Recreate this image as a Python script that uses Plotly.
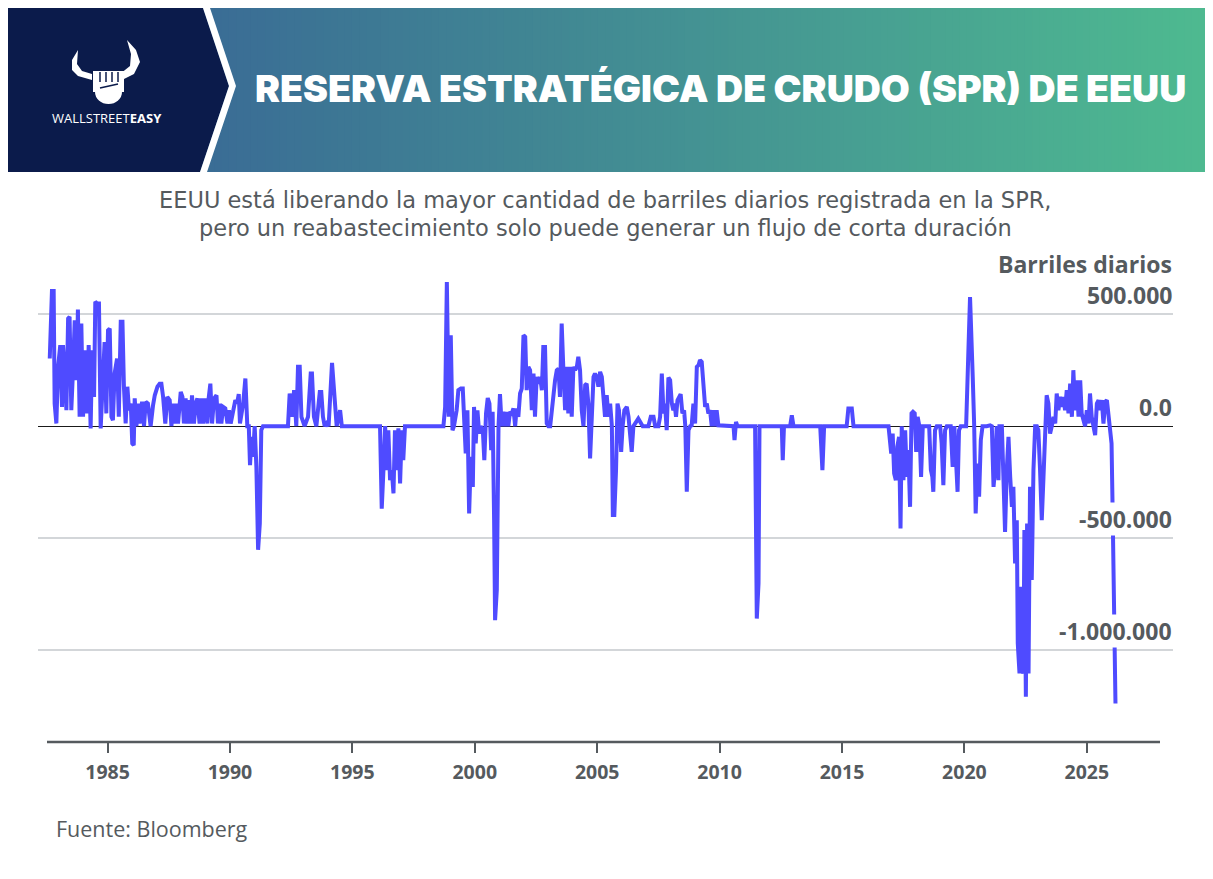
import plotly.graph_objects as go

# SPR net flow, barrels per day (decimal years)
yrs_1982_1994 = [
    1982.64, 1982.73, 1982.80, 1982.84, 1982.91, 1982.98, 1983.07, 1983.14, 1983.18, 1983.25,
    1983.32, 1983.39, 1983.45, 1983.52, 1983.59, 1983.66, 1983.73, 1983.79, 1983.86, 1983.93,
    1984.00, 1984.07, 1984.16, 1984.23, 1984.31, 1984.37, 1984.45, 1984.50, 1984.58, 1984.65,
    1984.72, 1984.82, 1984.88, 1984.95, 1985.02, 1985.09, 1985.16, 1985.22, 1985.29, 1985.39,
    1985.46, 1985.54, 1985.61, 1985.67, 1985.74, 1985.81, 1985.88, 1985.95, 1986.01, 1986.07,
    1986.11, 1986.18, 1986.25, 1986.31, 1986.41, 1986.49, 1986.56, 1986.65, 1986.76, 1986.86,
    1986.93, 1987.04, 1987.13, 1987.20, 1987.27, 1987.36, 1987.44, 1987.54, 1987.61, 1987.68,
    1987.74, 1987.81, 1987.88, 1987.99, 1988.06, 1988.12, 1988.19, 1988.26, 1988.33, 1988.40,
    1988.45, 1988.53, 1988.60, 1988.67, 1988.76, 1988.83, 1988.90, 1988.97, 1989.08, 1989.13,
    1989.20, 1989.27, 1989.35, 1989.45, 1989.51, 1989.58, 1989.65, 1989.72, 1989.81, 1989.90,
    1989.96, 1990.03, 1990.13, 1990.22, 1990.29, 1990.36, 1990.41, 1990.47, 1990.54, 1990.63,
    1990.71, 1990.77, 1990.82, 1990.88, 1990.94, 1991.01, 1991.08, 1991.15, 1991.22, 1991.28,
    1991.35, 1992.37, 1992.44, 1992.54, 1992.62, 1992.71, 1992.78, 1992.85, 1992.92, 1993.05,
    1993.19, 1993.30, 1993.35, 1993.43, 1993.53, 1993.67, 1993.73, 1993.80, 1993.87, 1993.95,
    1994.03, 1994.17, 1994.25,
]
flow_1982_1994 = [
    302000, 604000, 604000, 101000, 12000, 265000, 362000, 86000, 362000, 250000,
    71000, 481000, 488000, 71000, 250000, 473000, 205000, 521000, 42000, 458000,
    42000, 339000, 57000, 362000, -10000, 339000, 131000, 555000, 548000, 548000,
    -10000, 310000, 376000, 57000, 428000, 436000, 42000, 27000, 235000, 302000,
    42000, 466000, 466000, 176000, 12000, 176000, 71000, 101000, -77000, -85000,
    124000, 0, 101000, 12000, 109000, 0, 109000, 101000, 0, 94000,
    138000, 176000, 190000, 190000, 131000, 12000, 131000, 116000, 0, 101000,
    12000, 101000, 12000, 153000, 131000, 12000, 124000, 12000, 116000, 12000,
    138000, 12000, 101000, 124000, 12000, 124000, 12000, 124000, 12000, 124000,
    190000, 12000, 124000, 138000, 12000, 101000, 12000, 86000, 79000, 12000,
    71000, 12000, 64000, 116000, 101000, 143000, 12000, 57000, 101000, 213000,
    0, 0, -174000, -48000, -137000, 0, -182000, -552000, -434000, -18000,
    0, 0, 146000, 42000, 161000, 0, 265000, 265000, 42000, 0,
    42000, 235000, 235000, 42000, 0, 153000, 153000, 42000, 0, 12000,
    0, 283000, 153000,
]

yrs_1994_2006 = [
    1994.36, 1994.50, 1994.57, 1996.13, 1996.20, 1996.27, 1996.34, 1996.40, 1996.47, 1996.54,
    1996.61, 1996.68, 1996.74, 1996.81, 1996.88, 1996.95, 1997.02, 1997.08, 1997.15, 1998.72,
    1998.79, 1998.86, 1998.94, 1999.02, 1999.09, 1999.15, 1999.26, 1999.33, 1999.43, 1999.51,
    1999.56, 1999.63, 1999.70, 1999.77, 1999.84, 1999.92, 1999.97, 2000.04, 2000.11, 2000.18,
    2000.24, 2000.33, 2000.39, 2000.46, 2000.53, 2000.60, 2000.67, 2000.73, 2000.79, 2000.83,
    2000.90, 2000.97, 2001.03, 2001.10, 2001.17, 2001.24, 2001.31, 2001.37, 2001.44, 2001.51,
    2001.58, 2001.65, 2001.71, 2001.78, 2001.85, 2001.92, 2001.99, 2002.06, 2002.12, 2002.19,
    2002.26, 2002.33, 2002.40, 2002.46, 2002.53, 2002.60, 2002.67, 2002.74, 2002.80, 2002.87,
    2002.94, 2003.01, 2003.08, 2003.14, 2003.21, 2003.28, 2003.35, 2003.42, 2003.48, 2003.55,
    2003.62, 2003.69, 2003.76, 2003.82, 2003.89, 2003.96, 2004.03, 2004.10, 2004.17, 2004.23,
    2004.30, 2004.37, 2004.44, 2004.51, 2004.57, 2004.64, 2004.71, 2004.78, 2004.85, 2004.91,
    2004.98, 2005.05, 2005.12, 2005.19, 2005.25, 2005.32, 2005.39, 2005.46, 2005.53, 2005.60,
    2005.64, 2005.70, 2005.77, 2005.83, 2005.89, 2005.98, 2006.04, 2006.11, 2006.21, 2006.28,
]
flow_1994_2006 = [
    0, 71000, 0, 0, -368000, -196000, 0, -196000, -18000, -241000,
    -196000, -300000, -18000, -196000, -10000, -256000, -18000, -152000, 0, 0,
    86000, 644000, 42000, 406000, -18000, 0, 71000, 161000, 168000, 168000,
    71000, -122000, 71000, -390000, -137000, -271000, 86000, -77000, 71000, -33000,
    0, -18000, -152000, 57000, 126000, 101000, -107000, 64000, -420000, -866000,
    -732000, 0, 143000, 0, 64000, 0, 64000, 0, 64000, 57000,
    79000, 0, 79000, 42000, 146000, 168000, 406000, 399000, 161000, 265000,
    250000, 71000, 235000, 42000, 220000, 190000, 220000, 161000, 354000, 354000,
    12000, 0, 0, 71000, 116000, 205000, 250000, 257000, 131000, 458000,
    250000, 71000, 265000, 57000, 265000, 42000, 265000, 250000, 265000, 310000,
    250000, 71000, 0, 183000, 190000, 101000, -144000, 0, 220000, 235000,
    220000, 176000, 243000, 220000, 131000, 42000, 138000, 42000, 101000, 0,
    -397000, -397000, -196000, 101000, 71000, -115000, 0, 71000, 86000, 42000,
]

yrs_2006_2016 = [
    2006.41, 2006.48, 2006.68, 2006.78, 2006.86, 2007.09, 2007.19, 2007.30, 2007.37, 2007.50,
    2007.57, 2007.64, 2007.71, 2007.77, 2007.84, 2007.91, 2007.98, 2008.05, 2008.11, 2008.16,
    2008.22, 2008.28, 2008.35, 2008.41, 2008.48, 2008.55, 2008.60, 2008.66, 2008.73, 2008.80,
    2008.86, 2008.93, 2009.00, 2009.07, 2009.14, 2009.20, 2009.27, 2009.34, 2009.41, 2009.48,
    2009.54, 2009.61, 2009.68, 2009.75, 2009.82, 2009.88, 2009.95, 2010.57, 2010.61, 2010.67,
    2010.73, 2011.45, 2011.49, 2011.52, 2011.59, 2011.63, 2012.54, 2012.58, 2012.63, 2012.88,
    2012.95, 2013.02, 2014.11, 2014.20, 2014.27, 2015.19, 2015.26, 2015.40, 2015.47,
]
flow_2006_2016 = [
    -115000, 0, 34000, 12000, 0, 0, 42000, 42000, 0, 0,
    42000, 235000, 57000, 101000, -18000, 217000, 205000, 101000, 71000, 101000,
    42000, 116000, 131000, 143000, 57000, 71000, 0, -293000, -18000, 0,
    4000, 101000, 12000, 265000, 272000, 295000, 287000, 183000, 86000, 101000,
    57000, 71000, 0, 71000, 0, 71000, 4000, 0, -62000, 19000,
    0, 0, -643000, -859000, -702000, 0, 0, -152000, 0, 0,
    49000, 0, 0, -196000, 0, 0, 79000, 79000, 0,
]

yrs_2016_2026 = [
    2016.90, 2017.01, 2017.07, 2017.13, 2017.20, 2017.26, 2017.33, 2017.39, 2017.44, 2017.51,
    2017.58, 2017.65, 2017.71, 2017.78, 2017.84, 2017.90, 2017.97, 2018.03, 2018.09, 2018.16,
    2018.23, 2018.30, 2018.56, 2018.63, 2018.69, 2018.73, 2018.80, 2018.87, 2019.01, 2019.07,
    2019.14, 2019.21, 2019.28, 2019.44, 2019.52, 2019.59, 2019.66, 2019.72, 2019.78, 2019.85,
    2020.07, 2020.12, 2020.18, 2020.23, 2020.29, 2020.34, 2020.40, 2020.46, 2020.53, 2020.60,
    2020.67, 2020.74, 2020.91, 2021.05, 2021.12, 2021.19, 2021.25, 2021.32, 2021.39, 2021.43,
    2021.53, 2021.59, 2021.66, 2021.73, 2021.80, 2021.87, 2021.94, 2022.00, 2022.07, 2022.14,
    2022.18, 2022.25, 2022.30, 2022.34, 2022.41, 2022.45, 2022.51, 2022.56, 2022.62, 2022.68,
    2022.75, 2022.82, 2022.89, 2022.96, 2023.02, 2023.09, 2023.16, 2023.23, 2023.30, 2023.36,
    2023.43, 2023.50, 2023.57, 2023.64, 2023.71, 2023.77, 2023.84, 2023.91, 2023.98, 2024.05,
    2024.11, 2024.18, 2024.25, 2024.32, 2024.39, 2024.45, 2024.52, 2024.59, 2024.66, 2024.73,
    2024.79, 2024.86, 2024.93, 2025.00, 2025.07, 2025.13, 2025.20, 2025.27, 2025.34, 2025.41,
    2025.48, 2025.54, 2025.61, 2025.68, 2025.75, 2025.82, 2025.88, 2025.95, 2026.01, 2026.05,
    2026.09, 2026.14, 2026.17,
]
flow_2016_2026 = [
    0, -122000, -33000, -211000, -241000, -92000, -48000, -457000, 0, -241000,
    -18000, -226000, -107000, -360000, 57000, 64000, 57000, -115000, 42000, 0,
    -226000, 0, 0, -196000, -226000, -293000, -18000, 0, 0, -77000,
    -263000, -18000, 0, 0, -182000, 0, -196000, -293000, -18000, 0,
    0, 265000, 399000, 577000, 280000, 220000, 0, -390000, -167000, -315000,
    -62000, 0, 0, 4000, 0, -271000, -196000, 0, -241000, 0,
    0, -196000, -472000, -196000, -48000, -226000, -360000, -271000, -613000, -420000,
    -970000, -1104000, -717000, -1074000, -1104000, -464000, -1208000, -434000, -1104000, -271000,
    -687000, -196000, 0, 0, -18000, -196000, -420000, -226000, -48000, 138000,
    101000, -33000, 0, 42000, 12000, 146000, 71000, 131000, 86000, 131000,
    71000, 161000, 57000, 190000, 42000, 250000, 71000, 205000, 42000, 205000,
    57000, 27000, 0, 71000, 12000, 146000, 42000, 0, -40000, 101000,
    116000, 71000, 116000, 12000, 109000, 116000, 42000, 0, -77000, -345000,
    -583000, -836000, -1238000,
]

year_ticks = [1985, 1990, 1995, 2000, 2005, 2010, 2015, 2020, 2025]
value_ticks = [500000, 0, -500000, -1000000]
value_labels = ["500.000", "0.0", "-500.000", "-1.000.000"]

years = yrs_1982_1994 + yrs_1994_2006 + yrs_2006_2016 + yrs_2016_2026
flows = flow_1982_1994 + flow_1994_2006 + flow_2006_2016 + flow_2016_2026

W, H = 1213, 879
# plot area in page pixels; the page body adds an 8px margin around the figure
L, R, T, B = 38, 1173, 275, 742
OFF = 8
GREY = "#555a5e"


def px(x):
    return (x - L) / (R - L)


def py(y):
    return (B - y) / (B - T)


def path(points):
    s = "M " + " L ".join(f"{px(x):.5f},{py(y):.5f}" for x, y in points)
    return s + " Z"


fig = go.Figure()
fig.add_trace(
    go.Scatter(
        x=years,
        y=flows,
        mode="lines",
        line=dict(color="#4f4bff", width=4),
        hoverinfo="skip",
        showlegend=False,
    )
)

fig.update_layout(
    width=W,
    height=H,
    margin=dict(l=L - OFF, r=W - R + OFF, t=T - OFF, b=H - B + OFF),
    paper_bgcolor="white",
    plot_bgcolor="white",
    showlegend=False,
)
fig.update_xaxes(
    range=[1982.16, 2028.52],
    tickvals=year_ticks,
    ticktext=[str(y) for y in year_ticks],
    ticks="outside",
    ticklen=10,
    tickwidth=2,
    tickcolor=GREY,
    ticklabelstandoff=3,
    tickfont=dict(family="Open Sans", size=19.5, color=GREY, weight="bold"),
    showgrid=False,
    zeroline=False,
    showline=False,
)
fig.update_yaxes(
    range=[-1410000, 675000],
    tickvals=value_ticks,
    showticklabels=False,
    showgrid=True,
    gridcolor="#d3d6d9",
    gridwidth=1.5,
    zeroline=True,
    zerolinecolor="#1a1a1a",
    zerolinewidth=1.2,
    layer="below traces",
)

shapes = []
# header gradient strip
c_left = (58, 108, 149)
c_right = (78, 186, 144)
n = 140
x_start = 200
for i in range(n):
    t = i / (n - 1)
    col = tuple(round(a + (b - a) * t) for a, b in zip(c_left, c_right))
    xa = x_start + (W - x_start) * i / n
    xb = x_start + (W - x_start) * (i + 1) / n + 1
    shapes.append(dict(type="rect", xref="paper", yref="paper",
                       x0=px(xa), x1=px(xb), y0=py(172), y1=py(-10),
                       fillcolor="rgb(%d,%d,%d)" % col, line_width=0))
# navy block and white chevron
shapes.append(dict(type="path", xref="paper", yref="paper",
                   path=path([(-10, -10), (197, -10), (229, 86), (200, 172), (-10, 172)]),
                   fillcolor="#0b1b4b", line_width=0))
shapes.append(dict(type="path", xref="paper", yref="paper",
                   path=path([(197, -10), (204, -10), (236, 86), (207, 172), (200, 172), (229, 86)]),
                   fillcolor="white", line_width=0))
# logo: horns and fist
shapes.append(dict(type="path", xref="paper", yref="paper",
                   path=path([(78, 50), (72, 60), (72, 70), (78, 76), (92, 80), (92, 74),
                              (82, 71), (77, 64), (78, 50)]),
                   fillcolor="white", line_width=0))
shapes.append(dict(type="path", xref="paper", yref="paper",
                   path=path([(127, 40), (136, 50), (140, 62), (134, 74), (122, 80), (120, 74),
                              (130, 66), (131, 54), (127, 40)]),
                   fillcolor="white", line_width=0))
shapes.append(dict(type="rect", xref="paper", yref="paper",
                   x0=px(93), x1=px(124), y0=py(92), y1=py(71),
                   fillcolor="white", line_width=0))
shapes.append(dict(type="circle", xref="paper", yref="paper",
                   x0=px(95), x1=px(122), y0=py(104), y1=py(80),
                   fillcolor="white", line_width=0))
for fx in [100, 106, 112, 118]:
    shapes.append(dict(type="line", xref="paper", yref="paper",
                       x0=px(fx), x1=px(fx), y0=py(72), y1=py(82),
                       line=dict(color="#0b1b4b", width=1.5)))
shapes.append(dict(type="line", xref="paper", yref="paper",
                   x0=px(100), x1=px(118), y0=py(88), y1=py(84),
                   line=dict(color="#0b1b4b", width=1.5)))
# bottom axis line
shapes.append(dict(type="line", xref="paper", yref="paper",
                   x0=px(47), x1=px(1160), y0=0, y1=0,
                   line=dict(color=GREY, width=2.5)))
fig.update_layout(shapes=shapes)

ann = []
ann.append(dict(text="RESERVA ESTRATÉGICA DE CRUDO (SPR) DE EEUU",
                x=px(720), y=py(88), xanchor="center", yanchor="middle",
                font=dict(family="Inter", size=37.5, color="white", weight=900)))
ann.append(dict(text="WALLSTREET<b>EASY</b>", x=px(107), y=py(118),
                xanchor="center", yanchor="middle",
                font=dict(family="Open Sans", size=13, color="white")))
ann.append(dict(text="EEUU está liberando la mayor cantidad de barriles diarios registrada en la SPR,",
                x=px(605), y=py(200), xanchor="center", yanchor="middle",
                font=dict(family="DejaVu Sans", size=22.5, color=GREY)))
ann.append(dict(text="pero un reabastecimiento solo puede generar un flujo de corta duración",
                x=px(605), y=py(228), xanchor="center", yanchor="middle",
                font=dict(family="DejaVu Sans", size=22.5, color=GREY)))
ann.append(dict(text="Barriles diarios", x=1, y=py(264), xanchor="right", yanchor="middle",
                borderpad=0,
                font=dict(family="Open Sans", size=23, color=GREY, weight="bold")))
for v, lab in zip(value_ticks, value_labels):
    ann.append(dict(text=lab, xref="paper", yref="y", x=1, y=v, yshift=19,
                    xanchor="right", yanchor="middle", bgcolor="white", borderpad=0,
                    font=dict(family="Open Sans", size=23, color=GREY, weight="bold")))
ann.append(dict(text="Fuente: Bloomberg", x=px(54), y=py(828), xanchor="left", yanchor="middle",
                font=dict(family="Open Sans", size=21.5, color=GREY)))
for a in ann:
    a.setdefault("xref", "paper")
    a.setdefault("yref", "paper")
    a["showarrow"] = False
fig.update_layout(annotations=ann)

fig.write_html("out.html")
